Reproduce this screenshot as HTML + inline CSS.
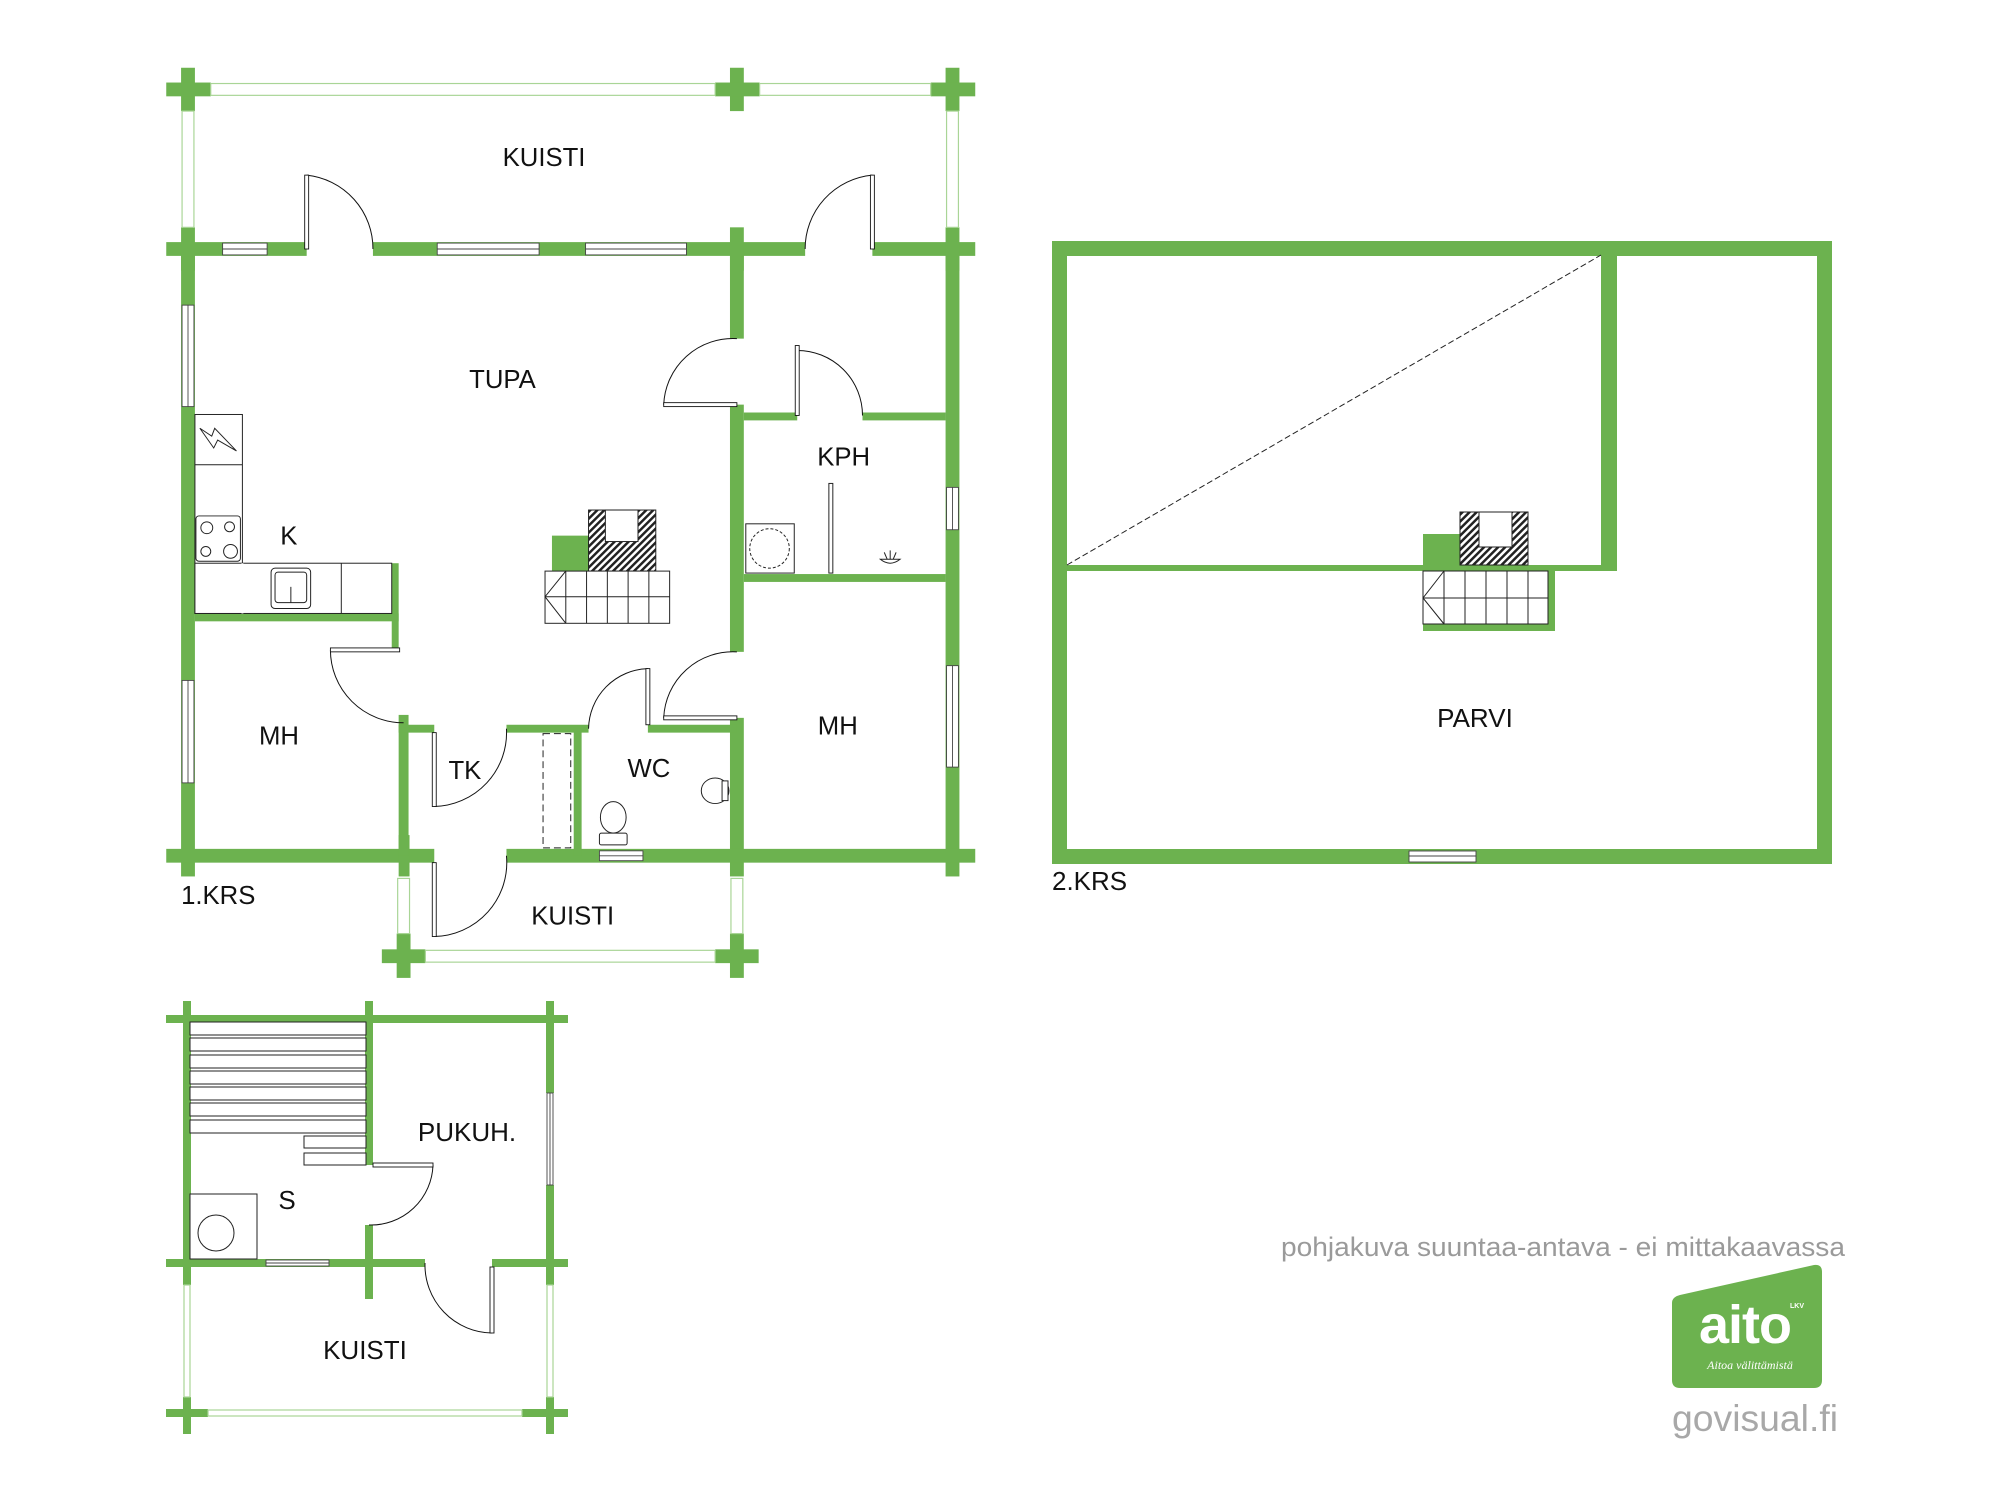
<!DOCTYPE html>
<html><head><meta charset="utf-8"><style>
html,body{margin:0;padding:0;background:#fff;}
svg{display:block;}
text{font-family:"Liberation Sans",Arial,sans-serif;fill:#111;}
</style></head><body>
<svg width="2000" height="1500" viewBox="0 0 2000 1500" xmlns="http://www.w3.org/2000/svg">
<defs>
<pattern id="hatch" width="5" height="5" patternUnits="userSpaceOnUse" patternTransform="rotate(45)">
<rect width="5" height="5" fill="#fff"/><rect width="2.5" height="5" fill="#222"/></pattern>
</defs>
<g transform="translate(188,249) scale(0.989,0.985) translate(-190,-250)">
<g fill="#6cb24f">
<rect x="183" y="66" width="14" height="44"/><rect x="168" y="81" width="45" height="14"/>
<rect x="738" y="66" width="14" height="44"/><rect x="723" y="81" width="45" height="14"/>
<rect x="956" y="66" width="14" height="44"/><rect x="941" y="81" width="45" height="14"/>
<rect x="168" y="243" width="142" height="14"/>
<rect x="377" y="243" width="437" height="14"/>
<rect x="882" y="243" width="104" height="14"/>
<rect x="183" y="228" width="14" height="44"/><rect x="738" y="228" width="14" height="44"/><rect x="956" y="228" width="14" height="44"/>
<rect x="183" y="250" width="14" height="637"/>
<rect x="956" y="250" width="14" height="637"/>
<rect x="738" y="250" width="14" height="91"/>
<rect x="738" y="408" width="14" height="251"/>
<rect x="738" y="726" width="14" height="161"/>
<rect x="168" y="859" width="271" height="14"/>
<rect x="512" y="859" width="474" height="14"/>
<rect x="403" y="845" width="11" height="42"/>
<rect x="752" y="416" width="54" height="8"/><rect x="872" y="416" width="84" height="8"/>
<rect x="752" y="580" width="204" height="8"/>
<rect x="197" y="620" width="206" height="8"/>
<rect x="396" y="569" width="7" height="86"/>
<rect x="403" y="723" width="10" height="143"/>
<rect x="403" y="733" width="36" height="8"/>
<rect x="512" y="733" width="83" height="8"/>
<rect x="655" y="733" width="90" height="8"/>
<rect x="580" y="737" width="8" height="129"/>
<rect x="401" y="945" width="14" height="45"/><rect x="386" y="961" width="44" height="14"/>
<rect x="738" y="945" width="14" height="45"/><rect x="723" y="961" width="44" height="14"/>
<rect x="558" y="541" width="37" height="36"/>
</g>
<g fill="#fff" stroke="#a9d596" stroke-width="1.2">
<rect x="213" y="82" width="510" height="12"/>
<rect x="768" y="82" width="173" height="12"/>
<rect x="184" y="110" width="12" height="118"/>
<rect x="957" y="110" width="12" height="118"/>
<rect x="402" y="889" width="12" height="56"/>
<rect x="739" y="889" width="12" height="56"/>
<rect x="430" y="962" width="293" height="12"/>
</g>
<g fill="#fff" stroke="#444" stroke-width="0.9">
<rect x="225" y="244" width="45" height="12"/><line x1="225" y1="250" x2="270" y2="250"/>
<rect x="442" y="244" width="103" height="12"/><line x1="442" y1="250" x2="545" y2="250"/>
<rect x="592" y="244" width="102" height="12"/><line x1="592" y1="250" x2="694" y2="250"/>
<rect x="184" y="307" width="12" height="103"/><line x1="190" y1="307" x2="190" y2="410"/>
<rect x="184" y="688" width="12" height="104"/><line x1="190" y1="688" x2="190" y2="792"/>
<rect x="957" y="492" width="12" height="43"/><line x1="963" y1="492" x2="963" y2="535"/>
<rect x="957" y="673" width="12" height="103"/><line x1="963" y1="673" x2="963" y2="776"/>
<rect x="606" y="861" width="44" height="10"/><line x1="606" y1="866" x2="650" y2="866"/>
</g>
<g fill="none" stroke="#111" stroke-width="1">
<path d="M310 175 A75 75 0 0 1 377 250"/>
<path d="M882 175 A75 75 0 0 0 814 250"/>
<path d="M671 408 A70 70 0 0 1 745 341"/>
<path d="M671 726 A70 70 0 0 1 745 659"/>
<path d="M806 353 A66 66 0 0 1 872 419"/>
<path d="M334 657 A74 74 0 0 0 408 731"/>
<path d="M439 816 A75 75 0 0 0 512 737"/>
<path d="M655 676 A62 62 0 0 0 595 737"/>
<path d="M439 948 A75 75 0 0 0 512 866"/>
</g>
<g fill="#fff" stroke="#111" stroke-width="0.9">
<rect x="308" y="175" width="4" height="75"/>
<rect x="880" y="175" width="4" height="75"/>
<rect x="671" y="406" width="74" height="4"/>
<rect x="671" y="724" width="74" height="4"/>
<rect x="804" y="348" width="4" height="71"/>
<rect x="334" y="655" width="70" height="4"/>
<rect x="437" y="741" width="4" height="75"/>
<rect x="653" y="676" width="4" height="57"/>
<rect x="437" y="873" width="4" height="75"/>
</g>
<g fill="#fff" stroke="#222" stroke-width="1">
<rect x="197" y="418" width="48" height="202"/>
<rect x="197" y="569" width="199" height="51"/>
<line x1="245" y1="569" x2="245" y2="620" stroke="#fff" stroke-width="2"/>
<line x1="197" y1="469" x2="245" y2="469"/>
<rect x="198" y="521" width="45" height="46" rx="3"/>
<circle cx="209" cy="533" r="6"/><circle cx="232" cy="532" r="5"/>
<circle cx="208" cy="557" r="5"/><circle cx="233" cy="557" r="7"/>
<rect x="274" y="574" width="40" height="41" rx="4"/>
<rect x="278" y="578" width="32" height="31" rx="3"/>
<line x1="294" y1="593" x2="294" y2="609"/>
<line x1="345" y1="569" x2="345" y2="620"/>
<path d="M202 432 L214 440 L217 432 L239 455 L220 444 L216 452 Z" fill="none"/>
</g>
<rect x="595" y="515" width="68" height="62" fill="url(#hatch)" stroke="#222"/>
<rect x="612" y="515" width="33" height="32" fill="#fff" stroke="#222"/>
<g fill="#fff" stroke="#222" stroke-width="1">
<rect x="551" y="577" width="126" height="53"/>
<line x1="551" y1="603" x2="677" y2="603"/>
<line x1="572" y1="577" x2="572" y2="630"/><line x1="593" y1="577" x2="593" y2="630"/><line x1="614" y1="577" x2="614" y2="630"/><line x1="635" y1="577" x2="635" y2="630"/><line x1="656" y1="577" x2="656" y2="630"/>
<path d="M572 577 L551 603 L572 630" fill="none"/>
</g>
<g fill="#fff" stroke="#222" stroke-width="1">
<rect x="754" y="529" width="49" height="50"/>
<circle cx="778" cy="554" r="20" stroke-dasharray="3,2"/>
<rect x="838" y="488" width="4" height="91"/>
<path d="M890 565 Q900 573 910 565 Z"/>
<line x1="900" y1="556" x2="900" y2="565"/><line x1="894" y1="558" x2="897" y2="565"/><line x1="906" y1="558" x2="903" y2="565"/>
<rect x="549" y="742" width="28" height="116" stroke-dasharray="7,4"/>
<ellipse cx="620" cy="827" rx="13" ry="16"/>
<rect x="606" y="843" width="28" height="12" rx="2"/>
<ellipse cx="723" cy="800" rx="14" ry="13"/>
<rect x="730" y="790" width="6" height="20"/>
</g>
<g font-size="26" text-anchor="middle">
<text x="550" y="166">KUISTI</text>
<text x="508" y="391">TUPA</text>
<text x="292" y="550">K</text>
<text x="853" y="470">KPH</text>
<text x="282" y="753">MH</text>
<text x="847" y="743">MH</text>
<text x="470" y="788">TK</text>
<text x="656" y="786">WC</text>
<text x="579" y="936">KUISTI</text>
</g>
<text x="183" y="915" font-size="26">1.KRS</text>
</g>

<!-- PARVI -->
<g fill="#6cb24f">
<rect x="1601" y="241" width="16" height="330"/>
<rect x="1067" y="565" width="550" height="6"/>
<rect x="1423" y="534" width="37" height="31"/>
<rect x="1423" y="571" width="132" height="60"/>
</g>
<rect x="1059.5" y="248.5" width="765" height="608" fill="none" stroke="#6cb24f" stroke-width="15"/>
<g fill="#fff" stroke="#444" stroke-width="0.9">
<rect x="1409" y="851" width="67" height="11"/><line x1="1409" y1="856" x2="1476" y2="856"/>
</g>
<rect x="1460" y="512" width="68" height="53" fill="url(#hatch)" stroke="#222"/>
<rect x="1479" y="512" width="33" height="35" fill="#fff" stroke="#222"/>
<g fill="#fff" stroke="#222" stroke-width="1">
<rect x="1423" y="571" width="125" height="53"/>
<line x1="1423" y1="598" x2="1548" y2="598"/>
<line x1="1444" y1="571" x2="1444" y2="624"/><line x1="1465" y1="571" x2="1465" y2="624"/><line x1="1486" y1="571" x2="1486" y2="624"/><line x1="1507" y1="571" x2="1507" y2="624"/><line x1="1528" y1="571" x2="1528" y2="624"/>
<path d="M1444 571 L1423 598 L1444 624" fill="none"/>
</g>
<line x1="1067" y1="565" x2="1601" y2="255" stroke="#222" stroke-width="1" stroke-dasharray="6,3"/>
<text x="1475" y="727" font-size="26" text-anchor="middle">PARVI</text>
<text x="1052" y="890" font-size="26">2.KRS</text>

<!-- SAUNA -->
<g fill="#6cb24f">
<rect x="166" y="1015" width="402" height="8"/>
<rect x="183" y="1001" width="8" height="284"/>
<rect x="365" y="1001" width="8" height="164"/>
<rect x="365" y="1225" width="8" height="74"/>
<rect x="546" y="1001" width="8" height="92"/>
<rect x="546" y="1185" width="8" height="100"/>
<rect x="166" y="1259" width="259" height="8"/>
<rect x="492" y="1259" width="76" height="8"/>
<rect x="183" y="1397" width="8" height="37"/><rect x="166" y="1409" width="42" height="8"/>
<rect x="546" y="1397" width="8" height="37"/><rect x="522" y="1409" width="46" height="8"/>
</g>
<g fill="#fff" stroke="#a9d596" stroke-width="1.2">
<rect x="184" y="1285" width="6" height="112"/>
<rect x="547" y="1285" width="6" height="112"/>
<rect x="208" y="1410" width="314" height="6"/>
</g>
<g fill="#fff" stroke="#444" stroke-width="0.9">
<rect x="266" y="1260" width="63" height="6"/><line x1="266" y1="1263" x2="329" y2="1263"/>
<rect x="547" y="1093" width="6" height="92"/><line x1="550" y1="1093" x2="550" y2="1185"/>
</g>
<g fill="none" stroke="#111" stroke-width="1">
<path d="M433 1165 A62 62 0 0 1 369 1225"/>
<path d="M425 1263 A68 68 0 0 0 492 1333"/>
</g>
<g fill="#fff" stroke="#111" stroke-width="0.9">
<rect x="373" y="1163" width="60" height="4"/>
<rect x="490" y="1267" width="4" height="66"/>
</g>
<g fill="#fff" stroke="#222" stroke-width="1">
<rect x="190" y="1022" width="176" height="13"/>
<rect x="190" y="1038" width="176" height="13"/>
<rect x="190" y="1055" width="176" height="13"/>
<rect x="190" y="1071" width="176" height="13"/>
<rect x="190" y="1087" width="176" height="13"/>
<rect x="190" y="1103" width="176" height="13"/>
<rect x="190" y="1120" width="176" height="13"/>
<rect x="304" y="1136" width="62" height="12"/>
<rect x="304" y="1153" width="62" height="12"/>
<rect x="190" y="1194" width="67" height="65"/>
<circle cx="216" cy="1233" r="18"/>
</g>
<g font-size="26" text-anchor="middle">
<text x="467" y="1141">PUKUH.</text>
<text x="287" y="1209">S</text>
<text x="365" y="1359">KUISTI</text>
</g>

<text x="1281" y="1256" font-size="27" textLength="564" lengthAdjust="spacingAndGlyphs" style="fill:#9a9a9a">pohjakuva suuntaa-antava - ei mittakaavassa</text>

<!-- logo -->
<path d="M1680 1295 L1814 1265 Q1822 1264 1822 1272 L1822 1380 Q1822 1388 1814 1388 L1680 1388 Q1672 1388 1672 1380 L1672 1303 Q1672 1297 1680 1295 Z" fill="#6cb24f"/>
<text x="1745" y="1343" font-size="54" font-weight="bold" text-anchor="middle" style="fill:#fff;letter-spacing:-1px">aito</text>
<text x="1797" y="1308" font-size="7" font-weight="bold" text-anchor="middle" style="fill:#fff">LKV</text>
<text x="1750" y="1369" font-size="12" font-style="italic" text-anchor="middle" style="fill:#fff;font-family:'Liberation Serif',serif">Aitoa välittämistä</text>
<text x="1672" y="1431" font-size="37" textLength="166" lengthAdjust="spacingAndGlyphs" style="fill:#a8a8a8">govisual.fi</text>
</svg>
</body></html>
